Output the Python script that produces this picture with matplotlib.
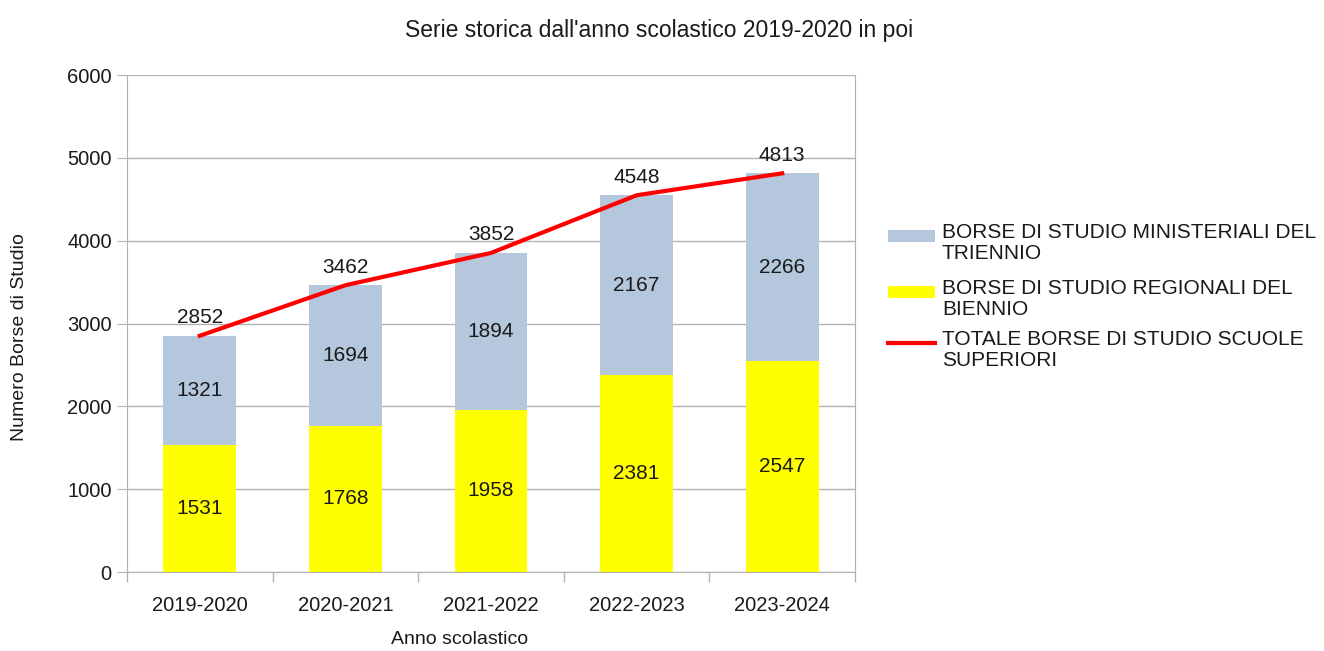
import numpy as np
import matplotlib
matplotlib.use('Agg')
from matplotlib import pyplot as plt
from matplotlib.patches import Rectangle
from matplotlib.lines import Line2D

plt.rcParams['font.family'] = ['Liberation Sans', 'DejaVu Sans']

anni = ['2019-2020', '2020-2021', '2021-2022', '2022-2023', '2023-2024']
regionali = [1531, 1768, 1958, 2381, 2547]
ministeriali = [1321, 1694, 1894, 2167, 2266]
totale = [2852, 3462, 3852, 4548, 4813]

lbl_min = 'BORSE DI STUDIO MINISTERIALI DEL\nTRIENNIO'
lbl_reg = 'BORSE DI STUDIO REGIONALI DEL\nBIENNIO'
lbl_tot = 'TOTALE BORSE DI STUDIO SCUOLE\nSUPERIORI'

W, H = 1324, 651
txtcol = '#1a1a1a'
gridcol = '#b3b3b3'
col_min = '#b4c7dc'
col_reg = '#ffff00'
col_tot = '#ff0000'

fig = plt.figure(figsize=(W / 100, H / 100), dpi=100)
ax = fig.add_axes([127 / W, 1 - 572 / H, (855 - 127) / W, (572 - 75) / H])

x = np.arange(len(anni))
w = 0.5
ax.bar(x, regionali, w, color=col_reg, zorder=2)
ax.bar(x, ministeriali, w, bottom=regionali, color=col_min, zorder=2)
ax.plot(x, totale, color=col_tot, lw=3, zorder=3)

for i in range(len(anni)):
    ax.text(x[i], regionali[i] / 2, str(regionali[i]), ha='center', va='center',
            fontsize=15, color=txtcol, zorder=4)
    ax.text(x[i], regionali[i] + ministeriali[i] / 2, str(ministeriali[i]), ha='center',
            va='center', fontsize=15, color=txtcol, zorder=4)
    ax.annotate(str(totale[i]), (x[i], totale[i]), xytext=(0, 13), textcoords='offset points',
                ha='center', va='center', fontsize=15, color=txtcol, zorder=4)

ax.set_xlim(-0.5, len(anni) - 0.5)
ax.set_ylim(0, 6000)
ax.set_yticks(np.arange(0, 6001, 1000))
ax.set_xticks(x)
ax.set_xticklabels(anni)
ax.set_xticks(np.arange(-0.5, len(anni), 1), minor=True)
ax.tick_params(axis='x', which='major', length=0, labelsize=14.5, pad=17, colors=txtcol)
ax.tick_params(axis='x', which='minor', length=7, color=gridcol, width=1)
ax.tick_params(axis='y', length=7, color=gridcol, labelsize=14.5, pad=4, labelcolor=txtcol)
ax.yaxis.grid(True, color=gridcol, lw=1, zorder=0)
ax.set_axisbelow(True)
for s in ['left', 'bottom', 'right']:
    ax.spines[s].set_color(gridcol)
ax.spines['top'].set_visible(False)

# axis titles and chart title
fig.text(460 / W, 1 - 640 / H, 'Anno scolastico', ha='center', va='center',
         fontsize=14, color=txtcol)
fig.text(20 / W, 1 - 337 / H, 'Numero Borse di Studio', ha='center', va='center',
         rotation=90, fontsize=14, color=txtcol)
fig.text(659 / W, 1 - 30 / H, "Serie storica dall'anno scolastico 2019-2020 in poi",
         ha='center', va='center', fontsize=16.5, color=txtcol)

# legend, handles lined up with the first line of each label
legend_rows = [(lbl_min, 'patch', col_min, 236),
               (lbl_reg, 'patch', col_reg, 292),
               (lbl_tot, 'line', col_tot, 343)]
for lbl, kind, col, yc in legend_rows:
    if kind == 'patch':
        fig.add_artist(Rectangle((888 / W, 1 - (yc + 6) / H), 47 / W, 12 / H,
                                 transform=fig.transFigure, color=col, lw=0))
    else:
        fig.add_artist(Line2D([888 / W, 935 / W], [1 - yc / H, 1 - yc / H],
                              transform=fig.transFigure, color=col, lw=3))
    fig.text(942 / W, 1 - (yc - 13) / H, lbl, ha='left', va='top', fontsize=15,
             color=txtcol, linespacing=1.12)

fig.savefig('out.png', dpi=100)
